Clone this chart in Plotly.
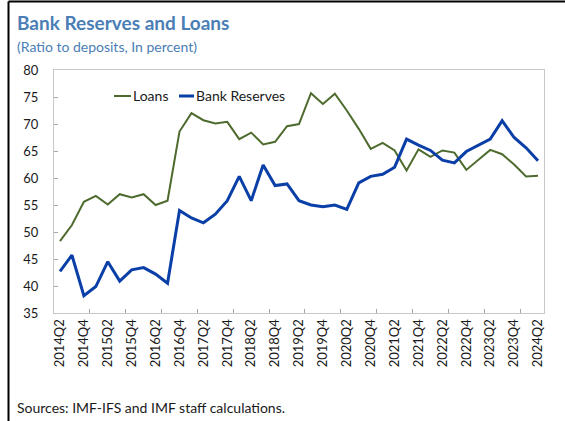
import plotly.graph_objects as go

quarters = [f"{2014 + (i + 1) // 4}Q{(i + 1) % 4 + 1}" for i in range(41)]
# 2014Q2 ... 2024Q2
loans = [48.3, 51.3, 55.6, 56.7, 55.1, 57.0, 56.4, 57.0, 55.0, 55.8,
         68.6, 72.0, 70.7, 70.1, 70.4, 67.2, 68.4, 66.2, 66.7, 69.6,
         70.0, 75.7, 73.7, 75.6, 72.5, 69.1, 65.4, 66.5, 65.1, 61.4,
         65.3, 63.9, 65.1, 64.7, 61.5, 63.3, 65.2, 64.4, 62.5, 60.3,
         60.4]
reserves = [42.7, 45.7, 38.2, 39.9, 44.5, 40.9, 43.0, 43.4, 42.2, 40.5,
            54.0, 52.6, 51.7, 53.3, 55.8, 60.3, 55.8, 62.4, 58.6, 58.9,
            55.8, 55.0, 54.7, 55.0, 54.2, 59.1, 60.3, 60.7, 62.0, 67.2,
            66.1, 65.1, 63.3, 62.8, 64.9, 66.1, 67.2, 70.6, 67.5, 65.6,
            63.2]
series_names = ["Loans", "Bank Reserves"]
label_idx = list(range(0, len(quarters), 2))
tick_labels = [quarters[i] for i in label_idx]
boundary_ticks = [i + 0.5 for i in range(2, len(quarters) - 1, 3)]

FONT = "Lato"
GREEN = "#4E6B2E"
BLUE = "#0B3FA8"
xs = list(range(len(quarters)))

fig = go.Figure()
fig.add_trace(go.Scatter(x=xs, y=loans, mode="lines", name=series_names[0],
                         line=dict(color=GREEN, width=2)))
fig.add_trace(go.Scatter(x=xs, y=reserves, mode="lines", name=series_names[1],
                         line=dict(color=BLUE, width=3)))

W, H = 565, 421
L, R, T, B = 54, 21, 70, 108
pw, ph = W - L - R, H - T - B

def px(x):
    return (x - L) / pw

def py(y):
    return (H - B - y) / ph

fig.update_layout(
    width=W, height=H,
    margin=dict(l=L, r=R, t=T, b=B),
    paper_bgcolor="white", plot_bgcolor="white",
    font=dict(family=FONT, size=13, color="#1a1a1a"),
    showlegend=False,
    xaxis=dict(range=[-0.5, len(quarters) - 0.5], tickmode="array",
               tickvals=label_idx, ticktext=tick_labels, tickangle=-90,
               ticks="", showgrid=False, zeroline=False,
               showline=True, linecolor="#C8C8C8", linewidth=1, mirror=True,
               tickfont=dict(size=13),
               minor=dict(tickmode="array", tickvals=boundary_ticks, ticks="inside",
                          ticklen=4, tickcolor="#A6A6A6", showgrid=False)),
    yaxis=dict(range=[35, 80], dtick=5, tick0=35, ticks="inside", ticklen=4,
               tickcolor="#A6A6A6", showgrid=False, zeroline=False,
               showline=True, linecolor="#C8C8C8", linewidth=1, mirror=True,
               tickfont=dict(size=13), ticklabelstandoff=12),
)

# legend drawn as line samples + labels
legend_y = py(96)
legend_items = [(series_names[0], GREEN, 2, 114, 131), (series_names[1], BLUE, 3, 179, 194)]
for name, col, w, x0, x1 in legend_items:
    fig.add_shape(type="line", xref="paper", yref="paper", x0=px(x0), x1=px(x1),
                  y0=legend_y, y1=legend_y, line=dict(color=col, width=w))
    fig.add_annotation(text=name, xref="paper", yref="paper", x=px(x1), y=legend_y,
                       xanchor="left", yanchor="middle", showarrow=False,
                       font=dict(family=FONT, size=14, color="#1a1a1a"))

fig.add_annotation(text="<b>Bank Reserves and Loans</b>", xref="paper", yref="paper",
                   x=px(15), y=py(22), xanchor="left", yanchor="middle", showarrow=False,
                   font=dict(family=FONT, size=19, color="#4A7EB5"))
fig.add_annotation(text="(Ratio to deposits, In percent)", xref="paper", yref="paper",
                   x=px(15), y=py(46), xanchor="left", yanchor="middle", showarrow=False,
                   font=dict(family=FONT, size=14, color="#4A7EB5"))
fig.add_annotation(text="Sources: IMF-IFS and IMF staff calculations.", xref="paper", yref="paper",
                   x=px(15), y=py(407), xanchor="left", yanchor="middle", showarrow=False,
                   font=dict(family=FONT, size=14, color="#1a1a1a"))

# outer frame lines (top and left)
fig.add_shape(type="line", xref="paper", yref="paper", x0=px(8.5), x1=px(W + 5),
              y0=py(1.5), y1=py(1.5), line=dict(color="black", width=2))
fig.add_shape(type="line", xref="paper", yref="paper", x0=px(8.5), x1=px(8.5),
              y0=py(1.5), y1=py(H + 5), line=dict(color="black", width=2))

fig.write_html("out.html")
